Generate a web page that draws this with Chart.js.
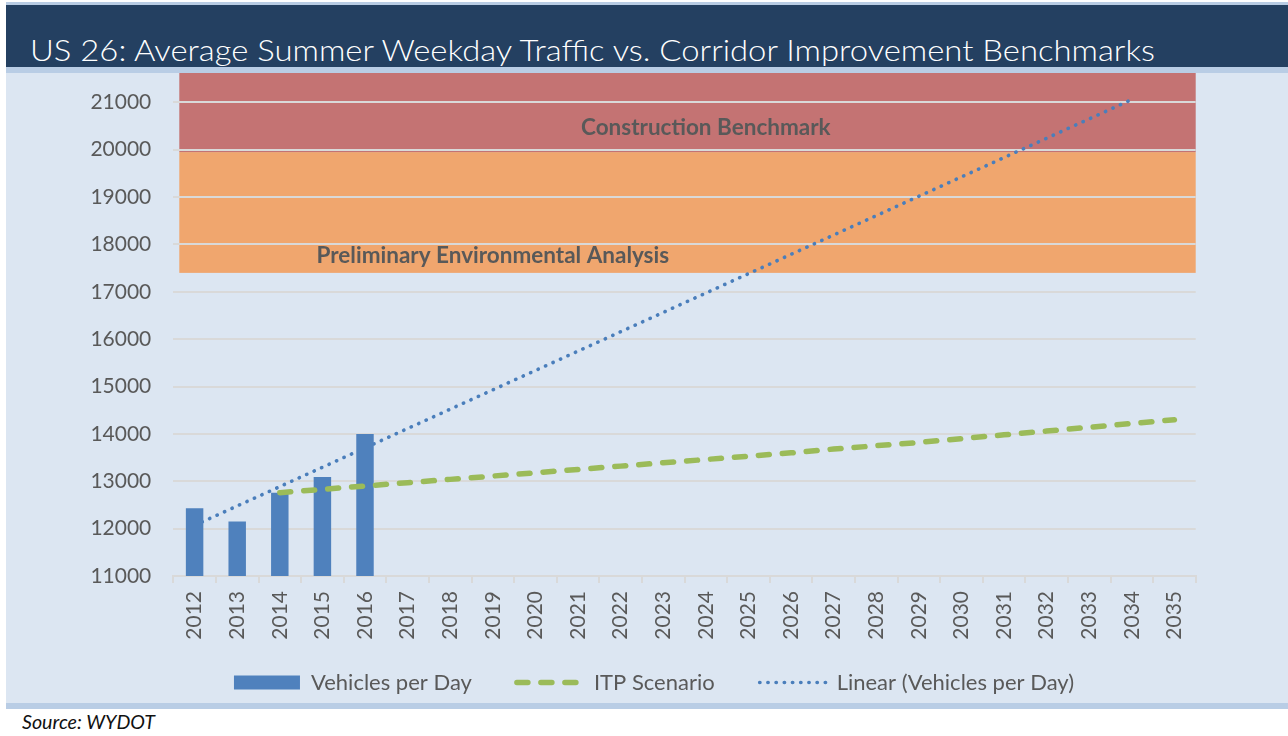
<!DOCTYPE html>
<html><head><meta charset="utf-8">
<script src="https://cdn.jsdelivr.net/npm/chart.js@4.4.1/dist/chart.umd.min.js"></script>
<style>
html,body{margin:0;padding:0;background:#fff;}
body{width:1288px;height:736px;overflow:hidden;position:relative;font-family:Lato,"Open Sans",sans-serif;}
.s{position:absolute;left:6px;right:0;}
#t1{top:2px;height:3px;background:#b8cce4;}
#hd{top:5px;height:62px;background:#244061;}
#t2{top:67px;height:6px;background:#b9cde5;}
#panel{top:73px;height:630px;background:#dce6f2;}
#t3{top:703px;height:6px;background:#b9cde5;}
#title{position:absolute;left:24px;top:30px;color:#fff;font-weight:300;font-size:29px;line-height:29px;white-space:nowrap;transform-origin:0 0;}
#src{position:absolute;left:22px;top:712px;color:#111;font-style:italic;font-size:19px;line-height:19px;white-space:nowrap;transform-origin:0 0;}
#wrap{position:absolute;left:6px;top:73px;width:1282px;height:629px;}
</style>
</head><body>
<div class="s" id="t1"></div>
<div class="s" id="hd"><div id="title">US 26: Average Summer Weekday Traffic vs. Corridor Improvement Benchmarks</div></div>
<div class="s" id="t2"></div>
<div class="s" id="panel"></div>
<div class="s" id="t3"></div>
<div id="src">Source: WYDOT</div>
<div id="wrap"><canvas id="c" width="1282" height="629"></canvas></div>
<script>
// ---- data ----
const years = ['2012','2013','2014','2015','2016','2017','2018','2019','2020','2021','2022','2023',
               '2024','2025','2026','2027','2028','2029','2030','2031','2032','2033','2034','2035'];
const vehiclesPerDay = [12430, 12150, 12760, 13090, 14000];
const itpScenario = [null, null, 12760, 12830, 12900, 12970, 13040, 13110, 13180, 13250, 13320, 13390,
                     13460, 13530, 13600, 13680, 13750, 13820, 13900, 13980, 14060, 14140, 14220, 14300];
const linearTrend = [12070, null, null, null, null, null, null, null, null, null, null, null,
                     null, null, null, null, null, null, null, null, null, null, 21060, null];
const bandNames = ['Preliminary Environmental Analysis', 'Construction Benchmark'];
const bandLow = [17400, 19950];
const bandHigh = [19950, 21620];
const yTickValues = [11000, 12000, 13000, 14000, 15000, 16000, 17000, 18000, 19000, 20000, 21000];
const seriesNames = ['Vehicles per Day', 'ITP Scenario', 'Linear (Vehicles per Day)'];

// ---- styles / placement ----
const bandColors = ['#f0a66e', '#c47373'];
const bandLabelAnchor = [{year: '2019', value: 17608}, {year: '2024', value: 20310}];
const axisMin = 11000, axisMax = 21620;

function fitWidth(id, target){
  const el = document.getElementById(id);
  const w = el.getBoundingClientRect().width;
  el.style.transform = 'scaleX(' + (target / w) + ')';
}

const bandPlugin = {
  id: 'bands',
  beforeDraw(chart) {
    const {ctx, chartArea: a, scales: {y}} = chart;
    ctx.save();
    for (let i = 0; i < bandNames.length; i++) {
      const top = Math.max(y.getPixelForValue(bandHigh[i]), a.top);
      const bot = y.getPixelForValue(bandLow[i]);
      ctx.fillStyle = bandColors[i];
      ctx.fillRect(a.left + 6, top, a.right - a.left - 6, bot - top);
    }
    ctx.restore();
  },
  beforeDatasetsDraw(chart) {
    const {ctx, scales: {x, y}} = chart;
    ctx.save();
    ctx.font = 'bold 22.5px Lato, "Open Sans", sans-serif';
    ctx.fillStyle = '#595959';
    ctx.textAlign = 'center';
    ctx.textBaseline = 'alphabetic';
    for (let i = 0; i < bandNames.length; i++) {
      const anc = bandLabelAnchor[i];
      ctx.fillText(bandNames[i], x.getPixelForValue(years.indexOf(anc.year)), y.getPixelForValue(anc.value));
    }
    ctx.restore();
  }
};

const tickFont = {family: 'Lato, "Open Sans", sans-serif', size: 21};
const legendFont = {family: 'Lato, "Open Sans", sans-serif', size: 22};
const noLabelClip = s => { s._computeLabelArea = () => undefined; };

new Chart(document.getElementById('c'), {
  type: 'bar',
  data: {
    labels: years,
    datasets: [
      {
        type: 'bar', label: seriesNames[0], data: vehiclesPerDay,
        backgroundColor: '#4f81bd', borderWidth: 0,
        barPercentage: 0.41, categoryPercentage: 1, order: 1
      },
      {
        type: 'line', label: seriesNames[1], data: itpScenario,
        borderColor: '#9bbb59', backgroundColor: '#9bbb59', borderWidth: 5.5,
        borderDash: [11, 13], borderCapStyle: 'round', pointRadius: 0, pointHoverRadius: 0,
        tension: 0, fill: false, order: 0
      },
      {
        type: 'line', label: seriesNames[2], data: linearTrend, spanGaps: true,
        borderColor: '#4a7ebb', backgroundColor: '#4a7ebb', borderWidth: 3.6,
        borderDash: [0.3, 7.9], borderCapStyle: 'round', pointRadius: 0, pointHoverRadius: 0,
        tension: 0, fill: false, order: 2
      }
    ]
  },
  options: {
    responsive: false, animation: false, devicePixelRatio: 1,
    layout: {padding: {left: 106.3, right: 92.3, top: 0, bottom: 0}},
    plugins: {
      tooltip: {enabled: false},
      legend: {
        position: 'bottom', maxHeight: 75.5,
        labels: {
          usePointStyle: true, pointStyleWidth: 66, boxHeight: 14, padding: 45,
          font: legendFont, color: '#595959',
          generateLabels(chart) {
            return chart.data.datasets.map((ds, i) => ({
              text: ds.label,
              datasetIndex: i,
              hidden: false,
              fillStyle: ds.type === 'bar' ? ds.backgroundColor : 'rgba(0,0,0,0)',
              strokeStyle: ds.borderColor || ds.backgroundColor,
              lineWidth: ds.type === 'bar' ? 0 : ds.borderWidth,
              lineDash: ds.borderDash || [],
              lineCap: ds.borderCapStyle || 'butt',
              pointStyle: ds.type === 'bar' ? 'rect' : 'line',
              fontColor: '#595959'
            }));
          }
        }
      }
    },
    scales: {
      x: {
        offset: true,
        grid: {display: true, drawOnChartArea: false, drawTicks: true, tickLength: 7, color: '#d9d9d9', lineWidth: 2, offset: true},
        border: {display: true, color: '#d9d9d9', width: 2},
        ticks: {font: tickFont, color: '#595959', minRotation: 90, maxRotation: 90, padding: 8, autoSkip: false},
        afterFit(s) { s.height = 50.5; s.paddingLeft = 0; s.paddingRight = 0; noLabelClip(s); }
      },
      y: {
        min: axisMin, max: axisMax,
        grid: {color: '#d9d9d9', lineWidth: 2, drawTicks: false},
        border: {display: false},
        ticks: {font: tickFont, color: '#595959', padding: 22, stepSize: 1000, callback: v => String(v)},
        afterBuildTicks(s) { s.ticks = yTickValues.map(v => ({value: v})); },
        afterFit(s) { s.width = 61; s.paddingTop = 0; s.paddingBottom = 0; noLabelClip(s); }
      }
    }
  },
  plugins: [bandPlugin]
});

fitWidth('title', 1125);
fitWidth('src', 133);
</script>
</body></html>
